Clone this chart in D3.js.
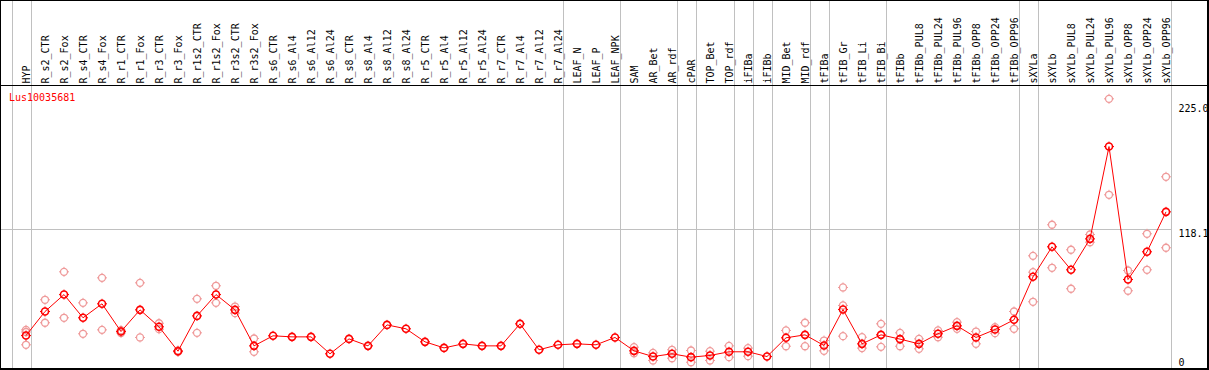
<!DOCTYPE html>
<html>
<head>
<meta charset="utf-8">
<script src="https://cdn.jsdelivr.net/npm/d3@7"></script>
<style>
  html, body { margin: 0; padding: 0; background: #fff; }
  svg { display: block; }
  text { font-family: "DejaVu Sans Mono", monospace; font-size: 10px; }
</style>
</head>
<body>
<script>
const categories = ["HYP","R_s2_CTR","R_s2_Fox","R_s4_CTR","R_s4_Fox","R_r1_CTR","R_r1_Fox","R_r3_CTR","R_r3_Fox",
  "R_r1s2_CTR","R_r1s2_Fox","R_r3s2_CTR","R_r3s2_Fox","R_s6_CTR","R_s6_Al4","R_s6_Al12","R_s6_Al24",
  "R_s8_CTR","R_s8_Al4","R_s8_Al12","R_s8_Al24","R_r5_CTR","R_r5_Al4","R_r5_Al12","R_r5_Al24",
  "R_r7_CTR","R_r7_Al4","R_r7_Al12","R_r7_Al24","LEAF_N","LEAF_P","LEAF_NPK","SAM","AR_Bet","AR_rdf",
  "cPAR","TOP_Bet","TOP_rdf","iFIBa","iFIBb","MID_Bet","MID_rdf","tFIBa","tFIB_Gr","tFIB_Li","tFIB_Bi",
  "tFIBb","tFIBb_PUL8","tFIBb_PUL24","tFIBb_PUL96","tFIBb_OPP8","tFIBb_OPP24","tFIBb_OPP96",
  "sXYLa","sXYLb","sXYLb_PUL8","sXYLb_PUL24","sXYLb_PUL96","sXYLb_OPP8","sXYLb_OPP24","sXYLb_OPP96"];

const means = [27.8,48.1,62.4,42.8,54.6,31.2,49.5,35.2,14.6,
  44.4,62.4,49.5,19.1,27.6,26.7,26.7,12.4,
  25.0,19.1,36.8,33.5,22.5,17.4,20.8,19.1,
  19.1,37.7,15.8,20.0,20.8,20.0,26.2,14.9,10.1,12.4,
  9.6,11.0,14.1,14.1,10.1,25.9,28.4,19.4,49.8,20.8,28.4,
  24.8,20.8,29.3,36.0,26.2,32.9,41.1,
  77.4,102.7,83.3,109.4,187.3,75.1,98.5,132.2];

const rep1 = [32.6,58.0,81.6,55.4,76.5,32.3,72.3,38.2,15.2,
  58.8,69.8,52.3,25.3,null,null,null,null,
  null,null,null,null,null,null,null,null,
  null,null,null,null,null,null,null,18.0,13.2,15.8,
  15.2,14.6,19.1,17.2,null,32.1,38.6,23.6,68.4,26.4,37.7,
  30.1,25.0,32.1,39.1,31.2,34.9,48.1,
  95.1,121.3,100.2,113.1,227.6,82.7,113.7,161.8];

const rep2 = [20.0,38.6,42.8,29.3,32.6,30.0,26.2,33.2,14.0,
  30.1,55.4,46.7,14.1,null,null,null,null,
  null,null,null,null,null,null,null,null,
  null,null,null,null,null,null,null,12.9,6.8,8.7,
  5.3,6.8,9.6,10.4,null,18.8,18.8,14.9,53.2,17.2,18.3,
  18.8,16.6,26.4,33.5,20.8,29.8,33.5,
  81.3,85.0,67.3,106.6,146.6,65.6,83.3,101.9];

const rep3 = [30.8,null,null,null,null,null,null,null,null,
  null,null,null,null,null,null,null,null,
  null,null,null,null,null,null,null,null,
  null,null,null,null,null,null,null,null,null,null,
  null,null,null,null,null,null,null,null,27.3,null,null,
  null,null,null,null,null,null,null,
  56.3,null,null,null,null,null,null,null];

// indices of columns after which a group separator is drawn
const groupEnds = [0,28,31,34,35,37,38,39,41,42,45,52,53,60];
const yTicks = [0, 118.1, 225.0];
const yTickLabels = ["0","118.1","225.0"];
const geneName = "Lus10035681";

const W = 1209, H = 370;
const svg = d3.select("body").append("svg").attr("width", W).attr("height", H);

const x = d3.scalePoint().domain(categories).range([26, 1166]);
const step = x.step();
const y = d3.scaleLinear().domain([0, 225]).range([368.5, 101.9]);
const sepOff = 4.6;

const grey = "#c0c0c0";
// vertical separators (left edge + group ends)
const sepX = [x(categories[0]) - step + sepOff].concat(groupEnds.map(i => x(categories[i]) + sepOff));
svg.append("g").selectAll("line").data(sepX).join("line")
  .attr("x1", d => Math.round(d) + 0.5).attr("x2", d => Math.round(d) + 0.5)
  .attr("y1", 0).attr("y2", 369)
  .attr("stroke", grey).attr("stroke-width", 1);

// horizontal gridline at middle tick
const rightEdge = x(categories[categories.length - 1]) + sepOff;
svg.append("line")
  .attr("x1", 0).attr("x2", Math.round(rightEdge))
  .attr("y1", Math.round(y(yTicks[1])) + 0.5).attr("y2", Math.round(y(yTicks[1])) + 0.5)
  .attr("stroke", grey).attr("stroke-width", 1);

// frame
svg.append("rect").attr("x", 0).attr("y", 0).attr("width", 1208).attr("height", 369)
  .attr("fill", "none").attr("stroke", "#000").attr("stroke-width", 2);
svg.append("line").attr("x1", 0).attr("x2", 1209).attr("y1", 85.5).attr("y2", 85.5)
  .attr("stroke", "#000").attr("stroke-width", 1);

// column labels
svg.append("g").selectAll("text").data(categories).join("text")
  .attr("transform", d => `translate(${x(d) + 4},83.5) rotate(-90)`)
  .attr("fill", "#000")
  .text(d => d);

// gene name
svg.append("text").attr("x", 9).attr("y", 101).attr("fill", "#ff0000").text(geneName);

// right axis labels
const labelY = [366, Math.round(y(yTicks[1])) + 7.5, Math.round(y(yTicks[2])) + 10];
svg.append("g").selectAll("text").data(yTickLabels).join("text")
  .attr("x", 1178.5).attr("y", (d, i) => labelY[i])
  .attr("fill", "#000").text(d => d);

function marker(g, cx, cy, color, sw) {
  g.append("circle").attr("cx", cx).attr("cy", cy).attr("r", 3.5)
    .attr("fill", "none").attr("stroke", color).attr("stroke-width", sw);
  const t = [[0,-1],[0,1],[-1,0],[1,0]];
  t.forEach(([dx, dy]) => {
    g.append("line")
      .attr("x1", cx + dx * 3.5).attr("y1", cy + dy * 3.5)
      .attr("x2", cx + dx * 5).attr("y2", cy + dy * 5)
      .attr("stroke", color).attr("stroke-width", 1);
  });
}

// replicate points
const repG = svg.append("g");
[rep1, rep2, rep3].forEach(arr => {
  arr.forEach((v, i) => {
    if (v !== null) marker(repG, x(categories[i]), y(v), "#ef9a9a", 1.3);
  });
});

// mean line
const line = d3.line().x((d, i) => x(categories[i])).y(d => y(d));
svg.append("path").datum(means).attr("d", line)
  .attr("fill", "none").attr("stroke", "#ff0000").attr("stroke-width", 1);

// mean points
const meanG = svg.append("g");
means.forEach((v, i) => marker(meanG, x(categories[i]), y(v), "#ff0000", 1.6));
</script>
</body>
</html>
